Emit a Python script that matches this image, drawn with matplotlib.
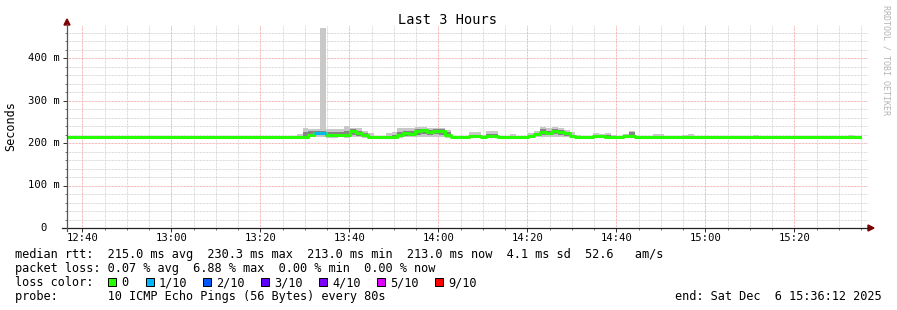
#!/usr/bin/env python3

# SmokePing style "Last 3 Hours" latency graph, redrawn with matplotlib.

import matplotlib
matplotlib.use("Agg")
import matplotlib.pyplot as plt
import numpy as np
from matplotlib.lines import Line2D
from matplotlib.patches import Polygon, Rectangle

# ---- data (ms, one value per 80 s step, 134 steps from 12:36) ----
median_ms = ([213] * 38 +
             [213, 213, 213, 219, 223, 223, 219, 219, 219, 219,
              229, 223, 219, 213, 213, 213, 213, 215, 219, 223,
              221, 229, 230, 225, 229, 229, 219, 213, 213, 213,
              217, 217, 213, 217, 217, 213, 213, 213, 213, 213,
              217, 221, 226, 223, 229, 225, 223, 217, 213, 213,
              213, 216, 216, 215, 215, 213, 216, 216, 213, 213,
              213, 213, 213, 213, 213, 213, 213, 213] +
             [213] * 10 + [213] + [213] * 14 + [213, 213, 213])

rtt_max_ms = ([213] * 38 +
              [213, 221, 236, 233, 233, 470, 233, 233, 233, 240,
               236, 236, 228, 223, 216, 216, 224, 226, 236, 236,
               236, 238, 238, 236, 236, 236, 230, 215, 215, 217,
               225, 225, 219, 228, 228, 213, 213, 221, 213, 213,
               223, 228, 238, 236, 238, 236, 231, 225, 219, 213,
               213, 223, 221, 224, 219, 213, 221, 228, 213, 213,
               213, 221, 221, 213, 213, 213, 218, 222] +
              [213] * 10 + [218] + [213] * 14 + [216, 220, 213])

rtt_min_ms = ([213] * 38 +
              [213, 211, 211, 213, 214, 214, 211, 211, 213, 211,
               213, 213, 211, 211, 211, 211, 211, 211, 211, 213,
               213, 215, 215, 215, 215, 215, 211, 211, 211, 211,
               211, 211, 211, 211, 211, 213, 213, 211, 213, 213,
               211, 213, 215, 215, 215, 215, 213, 211, 211, 213,
               213, 211, 211, 211, 211, 213, 211, 211, 213, 213,
               213, 211, 211, 213, 213, 213, 211, 211] +
              [213] * 10 + [211] + [213] * 14 + [211, 211, 213])

rtt_q3_ms = ([213] * 38 +
             [213, 215, 226, 228, 228, 228, 226, 226, 226, 228,
              232, 229, 224, 215, 213, 213, 217, 220, 226, 229,
              229, 233, 233, 231, 233, 232, 225, 213, 213, 213,
              219, 219, 213, 222, 222, 213, 213, 215, 213, 213,
              219, 224, 232, 229, 232, 230, 227, 220, 215, 213,
              213, 218, 218, 218, 216, 213, 219, 225, 213, 213,
              213, 215, 215, 213, 213, 213, 214, 216] +
             [213] * 10 + [214] + [213] * 14 + [214, 216, 213])

rtt_q1_ms = ([213] * 38 +
             [213, 212, 212, 215, 218, 218, 214, 214, 215, 214,
              220, 217, 213, 212, 212, 212, 212, 212, 214, 217,
              217, 220, 221, 219, 221, 220, 214, 212, 212, 212,
              213, 213, 212, 213, 213, 213, 213, 212, 213, 213,
              213, 216, 219, 218, 221, 219, 217, 213, 212, 213,
              213, 213, 213, 212, 212, 213, 213, 213, 213, 213,
              213, 212, 212, 213, 213, 213, 212, 212] +
             [213] * 10 + [212] + [213] * 14 + [212, 212, 213])

loss_tenths = [0] * 42 + [1, 1] + [0] * 90

loss_labels = ["0", "1/10", "2/10", "3/10", "4/10", "5/10", "9/10"]
loss_colors = ["#26ff00", "#00b8ff", "#0059ff", "#5e00ff",
               "#7e00ff", "#dd00ff", "#ff0000"]
loss_index = {0: 0, 1: 1, 2: 2, 3: 3, 4: 4, 5: 5, 9: 6}

x_tick_labels = ["12:40", "13:00", "13:20", "13:40", "14:00",
                 "14:20", "14:40", "15:00", "15:20"]
y_tick_values = [0, 100, 200, 300, 400]
y_tick_labels = ["0  ", "100 m", "200 m", "300 m", "400 m"]

stats_lines = [
    "median rtt:  215.0 ms avg  230.3 ms max  213.0 ms min  "
    "213.0 ms now  4.1 ms sd  52.6   am/s",
    "packet loss: 0.07 % avg  6.88 % max  0.00 % min  0.00 % now",
]
probe_line = "probe:       10 ICMP Echo Pings (56 Bytes) every 80s"
end_line = "end: Sat Dec  6 15:36:12 2025"

# ---- layout helpers (pixel -> figure fraction) ----
W, H = 897, 310
MONO = "DejaVu Sans Mono"


def fx(px):
    return px / W


def fy(py):
    return 1 - py / H


fig = plt.figure(figsize=(W / 100, H / 100), dpi=100)
fig.patch.set_facecolor("white")
ax = fig.add_axes([fx(67), fy(228), (868 - 67) / W, (228 - 25) / H])
for s in ax.spines.values():
    s.set_visible(False)

t_start = 12 * 60 + 36 + 34 / 60   # minutes since midnight
t_end = t_start + 180
step = 80 / 60
n = len(median_ms)
edges = t_start - 0.3 * step + np.arange(n + 1) * step

ax.set_xlim(t_start, t_end)
ax.set_ylim(0, 203 / 0.425)

# grid: grey every 20 ms / 5 min, red every 100 ms / 20 min
for v in range(20, 478, 20):
    col = "#f0a0a0" if v % 100 == 0 else "#cfcfcf"
    ax.axhline(v, color=col, lw=0.72, dashes=(0.72, 0.72), zorder=1)
first = int(np.ceil(t_start / 5) * 5)
for m in range(first, int(t_end) + 1, 5):
    col = "#f0a0a0" if m % 20 == 0 else "#cfcfcf"
    ax.axvline(m, color=col, lw=0.72, dashes=(0.72, 0.72), zorder=1)


def ext(a):
    a = np.asarray(a, dtype=float)
    return np.append(a, a[-1])


# smoke
ax.fill_between(edges, ext(rtt_min_ms), ext(rtt_max_ms), step="post",
                color="#c8c8c8", lw=0, zorder=2)
ax.fill_between(edges, ext(rtt_q1_ms), ext(rtt_q3_ms), step="post",
                color="#858585", lw=0, zorder=3)

# median line coloured by loss
ax.step(edges, ext(median_ms), where="post", color=loss_colors[0],
        lw=2.2, zorder=4)
for i, lt in enumerate(loss_tenths):
    if lt > 0:
        ax.hlines(median_ms[i], edges[i], edges[i + 1],
                  color=loss_colors[loss_index[lt]], lw=2.2, zorder=5)

# ticks
major_t = [760 + 20 * k for k in range(len(x_tick_labels))]
ax.set_xticks(major_t)
ax.set_xticks(np.arange(first, t_end, 5), minor=True)
ax.set_yticks(y_tick_values)
ax.set_yticks(np.arange(0, 478, 20), minor=True)
ax.set_xticklabels([])
ax.set_yticklabels([])
ax.tick_params(axis="both", which="major", length=3, width=0.72,
               color="#333333", direction="out")
ax.tick_params(axis="both", which="minor", length=1.5, width=0.72,
               color="#777777", direction="out")

for t, lab in zip(major_t, x_tick_labels):
    ax.text(t, -(237.7 - 228) / 203, lab, transform=ax.get_xaxis_transform(),
            ha="center", va="center", family=MONO, fontsize=7.6)
for v, lab in zip(y_tick_values, y_tick_labels):
    ax.text(-7 / 801, v, lab, transform=ax.get_yaxis_transform(),
            ha="right", va="center", family=MONO, fontsize=7.6)

# axis lines and arrows
fig.add_artist(Line2D([fx(62), fx(868)], [fy(228), fy(228)],
                      color="#222222", lw=0.9))
fig.add_artist(Line2D([fx(67), fx(67)], [fy(231), fy(24)],
                      color="#555555", lw=0.9))
fig.add_artist(Polygon([[fx(64), fy(25)], [fx(70), fy(25)], [fx(67), fy(19)]],
                       closed=True, color="#7f0000"))
fig.add_artist(Polygon([[fx(868), fy(225)], [fx(868), fy(231)],
                        [fx(874), fy(228)]], closed=True, color="#7f0000"))

# titles
fig.text(fx(447.5), fy(20), "Last 3 Hours", ha="center", va="center",
         family=MONO, fontsize=9.8)
fig.text(fx(11), fy(126), "Seconds", rotation=90, ha="center", va="center",
         family=MONO, fontsize=8.5)
fig.text(fx(886), fy(60), "RRDTOOL / TOBI OETIKER", rotation=270,
         ha="center", va="center", family=MONO, fontsize=6, color="#b4b4b4")

# legend block
fig.text(fx(15), fy(254.5), stats_lines[0], ha="left", va="center",
         family=MONO, fontsize=8.55)
fig.text(fx(15), fy(268.5), stats_lines[1], ha="left", va="center",
         family=MONO, fontsize=8.55)
fig.text(fx(15), fy(282.5), "loss color:", ha="left", va="center",
         family=MONO, fontsize=8.55)
box_x = [108, 146, 203, 261, 319, 377, 435]
for bx, lab, col in zip(box_x, loss_labels, loss_colors):
    fig.add_artist(Rectangle((fx(bx), fy(286)), 8 / W, 8 / H,
                             facecolor=col, edgecolor="black", lw=0.72))
    fig.text(fx(bx + 13), fy(282.5), lab, ha="left", va="center",
             family=MONO, fontsize=8.55)
fig.text(fx(15), fy(296.5), probe_line, ha="left", va="center",
         family=MONO, fontsize=8.55)
fig.text(fx(882), fy(296.5), end_line, ha="right", va="center",
         family=MONO, fontsize=8.55)

fig.savefig("out.png", dpi=100, facecolor="white")
